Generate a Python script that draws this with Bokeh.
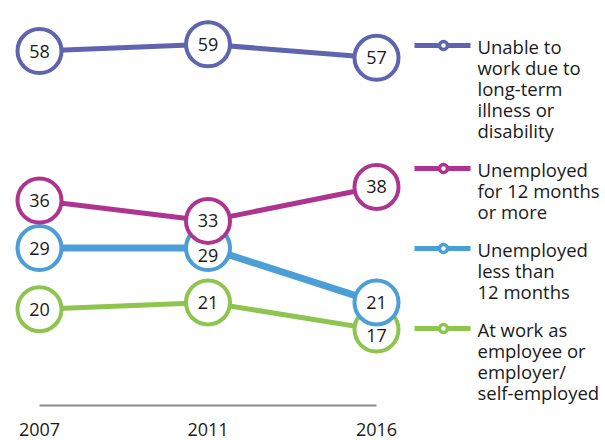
from bokeh.plotting import figure
from bokeh.models import Range1d
from bokeh.core.properties import value
from bokeh.embed import file_html
from bokeh.resources import INLINE

# ---- data ----
years = ["2007", "2011", "2016"]
series_names = [
    "Unable to\nwork due to\nlong-term\nillness or\ndisability",
    "Unemployed\nfor 12 months\nor more",
    "Unemployed\nless than\n12 months",
    "At work as\nemployee or\nemployer/\nself-employed",
]
unable_to_work = [58, 59, 57]
unemployed_12_plus = [36, 33, 38]
unemployed_under_12 = [29, 29, 21]
at_work = [20, 21, 17]

# ---- styles ----
series_values = [unable_to_work, unemployed_12_plus, unemployed_under_12, at_work]
colors = ["#5E65AE", "#AE358F", "#4B9ED6", "#8DC54F"]
line_widths = [5, 5, 7, 5]
# small nudges (px, downwards) for labels hidden behind overlapping circles
label_nudge = {(2, 1): 7, (3, 2): 6}
FONT = value("Open Sans")
TXT = "#1a1a1a"

W, H = 605, 440
X0, DX = 39.0, 168.5      # px of first category, px per category
Y0, DY = 444.6, 6.794     # px of value 0, px per unit


def xr(px):
    return (px - X0) / DX


def yr(py):
    return (Y0 - py) / DY


p = figure(width=W, height=H, output_backend="svg", toolbar_location=None,
           x_range=Range1d(xr(0), xr(W)), y_range=Range1d(yr(H), yr(0)),
           x_axis_type=None, y_axis_type=None, min_border=0)
p.outline_line_color = None
p.grid.visible = False
p.background_fill_color = "white"
p.border_fill_color = "white"

xs = list(range(len(years)))

# axis baseline and year labels
p.line([xs[0], xs[-1]], [yr(405), yr(405)], line_color="#8c8c8c", line_width=2)
p.text(xs, [yr(428.5)] * len(xs), text=years, text_align="center",
       text_baseline="middle", text_font=FONT, text_font_size="18px",
       text_color=TXT)

# lines
for vals, c, lw in zip(series_values, colors, line_widths):
    p.line(xs, vals, line_color=c, line_width=lw)

# circles (draw bottom series first)
for vals, c in reversed(list(zip(series_values, colors))):
    p.scatter(xs, vals, marker="circle", size=44, fill_color="white",
              line_color=c, line_width=4)

# value labels
for si, vals in enumerate(series_values):
    offs = [label_nudge.get((si, i), 0) for i in range(len(vals))]
    p.text(xs, vals, text=[str(v) for v in vals], y_offset=offs,
           text_align="center", text_baseline="middle", text_font=FONT,
           text_font_size="18px", text_color=TXT)

# legend
legend_y = [45, 168, 248, 328]
for name, c, ly in zip(series_names, colors, legend_y):
    p.line([xr(414), xr(470)], [yr(ly), yr(ly)], line_color=c, line_width=5)
    p.scatter([xr(443)], [yr(ly)], marker="circle", size=8, fill_color="white",
              line_color=c, line_width=3.5)
    lines = name.split("\n")
    p.text([xr(477)] * len(lines), [yr(ly + 0.5 + 21 * j) for j in range(len(lines))],
           text=lines, text_align="left", text_baseline="middle",
           text_font=FONT, text_font_size="18.5px", text_color=TXT)

open("out.html", "w").write(file_html(p, INLINE))
